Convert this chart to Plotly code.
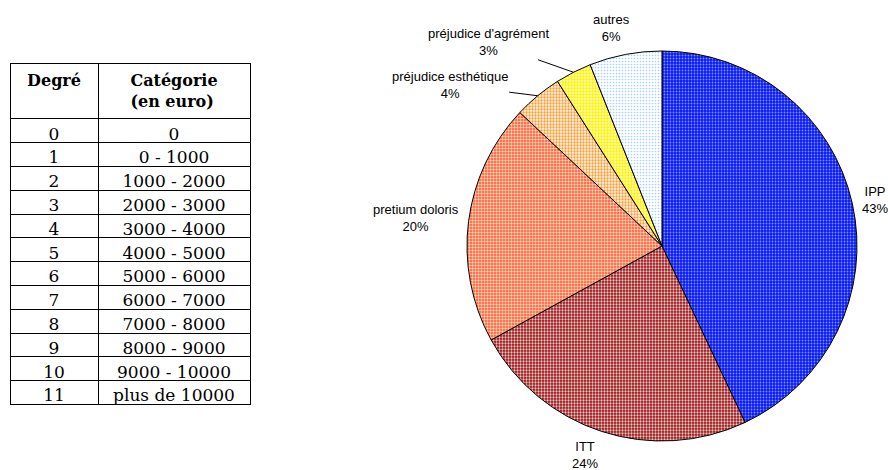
import math
import plotly.graph_objects as go

# table: degree -> amount bracket
degres = ["0", "1", "2", "3", "4", "5", "6", "7", "8", "9", "10", "11"]
categories = ["0", "0 - 1000", "1000 - 2000", "2000 - 3000", "3000 - 4000",
              "4000 - 5000", "5000 - 6000", "6000 - 7000", "7000 - 8000",
              "8000 - 9000", "9000 - 10000", "plus de 10000"]

# pie: share of each prejudice type
postes = ["IPP", "ITT", "pretium doloris", "préjudice esthétique",
          "préjudice d'agrément", "autres"]
parts = [43, 24, 20, 4, 3, 6]

W, H = 888, 470
cx, cy, r = 662, 246, 195   # pie centre / radius in pixels

bg = ["#0a1af2", "#961010", "#ff4a40", "#fff4e6", "#ffffa0", "#ffffff"]
fg = ["#8090ff", "#f0c8c8", "#ffdca8", "#ff9a2e", "#ffee00", "#a8d0ff"]
solid = [0.3, 0.45, 0.5, 0.45, 0.45, 0.25]

# label offsets (px from slice edge) and whether a leader line is drawn
offsets = [(23, -3), (-17, 24), (-53, -4), (-88, -11), (-85, -30), (-14, -26)]
leader = [False, False, False, True, True, False]

fig = go.Figure()

fig.add_trace(go.Table(
    domain=dict(x=[10 / W, 250 / W], y=[0, 1 - 63 / H]),
    columnwidth=[88, 152],
    header=dict(values=["<b>Degré</b>", "<b>Catégorie<br>(en euro)</b>"],
                height=48, align="center",
                line=dict(color="black", width=1), fill=dict(color="white"),
                font=dict(family="DejaVu Serif", size=16, color="black")),
    cells=dict(values=[degres, categories], height=23.8, align="center",
               line=dict(color="black", width=1), fill=dict(color="white"),
               font=dict(family="DejaVu Serif", size=17, color="black")),
))

fig.add_trace(go.Pie(
    labels=postes, values=parts, sort=False, direction="clockwise", rotation=0,
    textinfo="none", showlegend=False, hoverinfo="label+percent",
    domain=dict(x=[(cx - r) / W, (cx + r) / W], y=[1 - (cy + r) / H, 1 - (cy - r) / H]),
    marker=dict(colors=bg, line=dict(color="black", width=1),
                pattern=dict(shape=".", bgcolor=bg, fgcolor=fg, size=3, solidity=solid)),
))

# slice labels, anchored on the edge at each slice's mid angle
total = sum(parts)
cum = 0
for lab, v, (ox, oy), line in zip(postes, parts, offsets, leader):
    mid = (cum + v / 2) / total * 2 * math.pi
    cum += v
    px = cx + r * math.sin(mid)
    py = cy - r * math.cos(mid)
    fig.add_annotation(x=px / W, y=1 - py / H, xref="paper", yref="paper",
                       text=f"{lab}<br>{round(100 * v / total)}%",
                       showarrow=True, ax=ox, ay=oy, arrowhead=0, arrowwidth=1,
                       arrowcolor="black" if line else "rgba(0,0,0,0)",
                       font=dict(family="Liberation Sans", size=13, color="black"))

fig.update_layout(width=W, height=H, margin=dict(l=0, r=0, t=0, b=0),
                  paper_bgcolor="white", plot_bgcolor="white")

# drop the default 8px page margin so the figure fills the window exactly
fig.write_html("out.html", config={"displayModeBar": False},
               post_script="document.body.style.margin='0';document.body.style.overflow='hidden';")
